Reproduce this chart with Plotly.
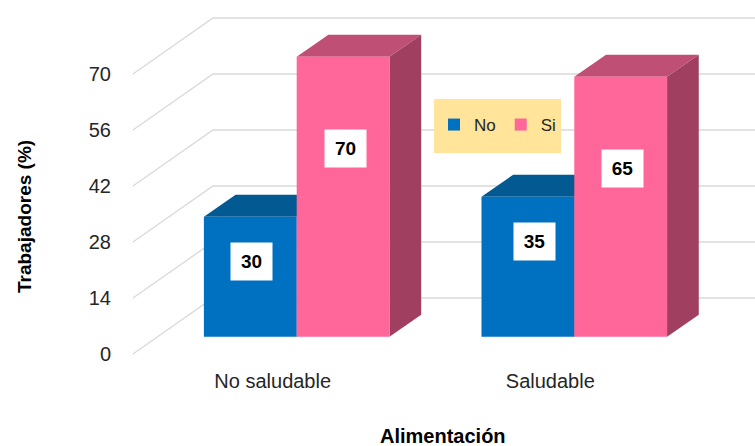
import plotly.graph_objects as go

categories = ["No saludable", "Saludable"]
series_names = ["No", "Si"]
no_values = [30, 35]
si_values = [70, 65]
y_ticks = [0, 14, 28, 42, 56, 70]
label_nudge_no = [(1, 45), (7, 45)]
label_nudge_si = [(2, 92), (2, 92)]

FONT = "Liberation Sans"
PX_X = 277.6
X_RANGE = [-0.6185, 1.651]
Y_RANGE = [-6.325, 84.175]
BAR_W = 92.8 / PX_X
BAR_DX, BAR_DY = 31.7 / PX_X, 5.5
WALL_DX, WALL_DY = 80 / PX_X, 14
WALL_SHIFT = -4.325
WALL_X0 = -0.5897

BLUE, BLUE_TOP = "#0070C0", "#035A93"
PINK, PINK_TOP, PINK_SIDE = "#FF6699", "#C04F75", "#A03F60"

fig = go.Figure()

# receding walls and floor
gx, gy = [], []
for t in y_ticks:
    v = t + WALL_SHIFT
    gx += [WALL_X0, WALL_X0 + WALL_DX, X_RANGE[1], None]
    gy += [v, v + WALL_DY, v + WALL_DY, None]
fig.add_trace(go.Scatter(x=gx, y=gy, mode="lines", line=dict(color="#D9D9D9", width=1.3),
                         showlegend=False, hoverinfo="skip"))


def depth_faces(values, left_of, top_color, side_color):
    for i, v in enumerate(values):
        l = i + left_of
        r = l + BAR_W
        fig.add_trace(go.Scatter(
            x=[l, l + BAR_DX, r + BAR_DX, r, l], y=[v, v + BAR_DY, v + BAR_DY, v, v],
            mode="lines", line=dict(width=0), fill="toself", fillcolor=top_color,
            showlegend=False, hoverinfo="skip"))
        fig.add_trace(go.Scatter(
            x=[r, r + BAR_DX, r + BAR_DX, r, r], y=[0, BAR_DY, v + BAR_DY, v, 0],
            mode="lines", line=dict(width=0), fill="toself", fillcolor=side_color,
            showlegend=False, hoverinfo="skip"))


depth_faces(no_values, -BAR_W, BLUE_TOP, BLUE_TOP)
depth_faces(si_values, 0, PINK_TOP, PINK_SIDE)

fig.add_trace(go.Bar(x=[0, 1], y=no_values, name=series_names[0], marker_color=BLUE,
                     marker_line_width=0, yaxis="y2"))
fig.add_trace(go.Bar(x=[0, 1], y=si_values, name=series_names[1], marker_color=PINK,
                     marker_line_width=0, yaxis="y2"))

annotations = []
for values, sign, nudges in ((no_values, -1, label_nudge_no), (si_values, 1, label_nudge_si)):
    for i, v in enumerate(values):
        annotations.append(dict(
            x=i + sign * BAR_W / 2, y=v, xref="x", yref="y2", text=f"<b>{v}</b>", showarrow=False,
            xshift=nudges[i][0], yshift=-nudges[i][1], bgcolor="white", width=39, height=35,
            xanchor="center", yanchor="middle", font=dict(family=FONT, size=19, color="black")))

annotations.append(dict(
    x=(442.5 - 125) / 630, y=(362 - 436) / 362, xref="paper", yref="paper", text="<b>Alimentación</b>",
    showarrow=False, xanchor="center", yanchor="middle", font=dict(family=FONT, size=20, color="black")))
annotations.append(dict(
    x=(24 - 125) / 630, y=(362 - 216) / 362, xref="paper", yref="paper", text="<b>Trabajadores (%)</b>",
    showarrow=False, textangle=-90, xanchor="center", yanchor="middle",
    font=dict(family=FONT, size=19, color="black")))

fig.update_layout(
    width=755, height=446, margin=dict(l=125, r=0, t=0, b=84),
    paper_bgcolor="white", plot_bgcolor="white",
    font=dict(family=FONT, color="#262626"),
    barmode="group", bargap=1 - 2 * BAR_W, bargroupgap=0,
    xaxis=dict(range=X_RANGE, tickvals=[0, 1], ticktext=categories, showgrid=False, zeroline=False,
               showline=False, ticks="", tickfont=dict(size=20, color="#262626"),
               ticklabelshift=-24, ticklabelstandoff=5),
    yaxis=dict(range=Y_RANGE, tickvals=y_ticks, showgrid=False, zeroline=False, showline=False,
               ticks="", tickfont=dict(size=20, color="#262626"), ticklabelshift=17, ticklabelstandoff=13),
    yaxis2=dict(range=Y_RANGE, overlaying="y", visible=False),
    legend=dict(orientation="h", x=(434 - 125) / 630, y=(362 - 107) / 362,
                xanchor="left", yanchor="top", bgcolor="rgba(0,0,0,0)",
                font=dict(size=17, color="#262626"), itemclick=False, itemdoubleclick=False),
    shapes=[dict(type="rect", xref="paper", yref="paper", x0=(434 - 125) / 630, x1=(561 - 125) / 630,
                 y0=(362 - 153) / 362, y1=(362 - 99) / 362, fillcolor="#FFE499", line_width=0, layer="above")],
    annotations=annotations,
)

fig.write_html("out.html", post_script="document.body.style.margin='0';",
               config={"displayModeBar": False})
